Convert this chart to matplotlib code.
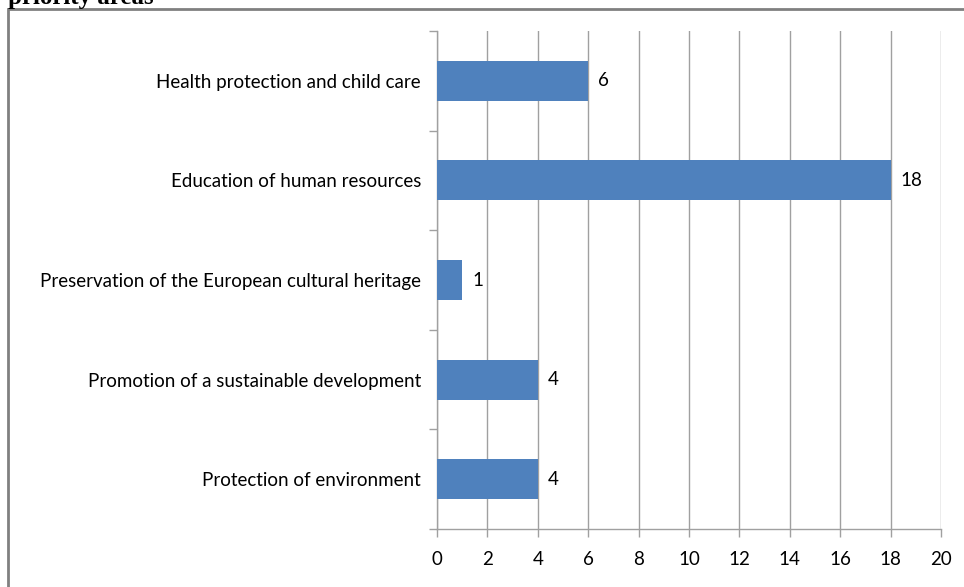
import matplotlib
matplotlib.use("Agg")
import matplotlib.pyplot as plt
from matplotlib.patches import Rectangle

categories = [
    "Protection of environment",
    "Promotion of a sustainable development",
    "Preservation of the European cultural heritage",
    "Education of human resources",
    "Health protection and child care",
]
values = [4, 4, 1, 18, 6]
x_ticks = list(range(0, 21, 2))

BAR_COLOR = "#4F81BD"
GRID_COLOR = "#A0A0A0"
FONT = "Lato"
FS = 13.5

W, H = 964, 587
fig = plt.figure(figsize=(W / 100, H / 100), dpi=100)

# outer chart frame (extends past the right and bottom edges)
fig.patches.append(Rectangle((8 / W, -0.1), 1.2, 1 - 9 / H + 0.1,
                             transform=fig.transFigure, fill=False,
                             edgecolor="#808080", linewidth=2.0))

# heading above the chart, partly clipped at the top edge
fig.text(8 / W, 1 - 4 / H, "priority areas", family="Liberation Serif",
         fontweight="bold", fontsize=18, ha="left", va="baseline")

ax = fig.add_axes([437 / W, 1 - 529 / H, (941 - 437) / W, (529 - 31) / H])

y = list(range(len(categories)))
ax.barh(y, values, height=0.4, color=BAR_COLOR, zorder=3)
for yi, v in zip(y, values):
    ax.text(v + 0.4, yi, str(v), va="center", ha="left", fontsize=FS,
            family=FONT, color="black")

ax.set_xlim(0, 20)
ax.set_ylim(-0.5, len(categories) - 0.5)
ax.set_xticks(x_ticks)
ax.set_xticklabels([str(t) for t in x_ticks], family=FONT, fontsize=FS)
ax.set_yticks(y)
ax.set_yticklabels(categories, family=FONT, fontsize=FS)
ax.tick_params(axis="y", length=0, pad=11.5)
ax.tick_params(axis="x", length=6, width=1, color=GRID_COLOR, pad=10)

# category separators as short ticks left of the axis
ax.set_yticks([i - 0.5 for i in range(len(categories) + 1)], minor=True)
ax.tick_params(axis="y", which="minor", length=6, width=1, color=GRID_COLOR)

ax.grid(axis="x", color=GRID_COLOR, linewidth=1, zorder=0)
for side in ("top", "right"):
    ax.spines[side].set_visible(False)
for side in ("left", "bottom"):
    ax.spines[side].set_color(GRID_COLOR)
    ax.spines[side].set_linewidth(1)

fig.savefig("out.png", dpi=100)
